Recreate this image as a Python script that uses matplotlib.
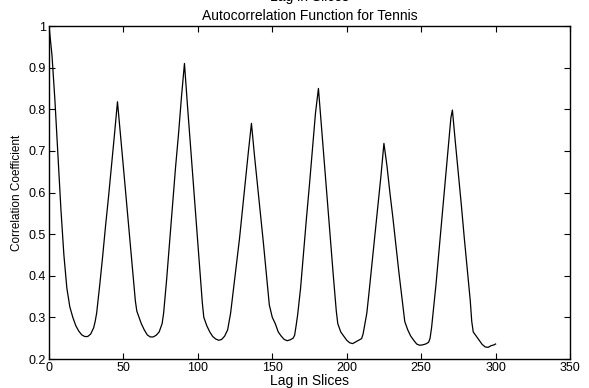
import matplotlib
matplotlib.use("Agg")
import matplotlib.pyplot as plt

plt.rcParams['font.family'] = ['Liberation Sans', 'DejaVu Sans']

lags = [0, 2, 4, 6, 8, 10, 12, 14, 16, 18, 20, 22, 24, 26, 28, 30, 31, 32, 34, 36, 38, 40, 42, 44, 46,
        48, 50, 52, 54, 56, 58, 59, 60, 62, 64, 66, 68, 70, 72, 74, 76, 77, 79, 81, 83, 85, 87, 89, 91,
        93, 95, 97, 99, 101, 103, 104, 106, 108, 110, 112, 114, 116, 118, 120, 121, 122,
        124, 126, 128, 130, 132, 134, 136,
        138, 140, 142, 144, 146, 148, 150, 152, 154, 156, 158, 160, 162, 164, 165, 166, 167,
        169, 171, 173, 175, 177, 179, 181,
        183, 185, 187, 189, 191, 193, 194, 196, 198, 200, 202, 204, 206, 208, 210, 211, 212, 213.5,
        215, 217, 219, 221, 223, 225,
        227, 229, 231, 233, 235, 237, 239, 241, 243, 245, 247, 249, 251, 253, 255, 256, 257, 258,
        260, 262, 264, 266, 268, 270, 271,
        273, 275, 277, 279, 281, 283, 284, 285, 287, 289, 291, 293, 295, 297, 299, 300]
corr = [1.000, 0.93, 0.82, 0.69, 0.56, 0.45, 0.37, 0.325, 0.30, 0.28, 0.267, 0.258, 0.254, 0.254, 0.26, 0.275, 0.29, 0.31, 0.375, 0.445, 0.52, 0.59, 0.665, 0.74, 0.818,
        0.74, 0.66, 0.58, 0.50, 0.42, 0.34, 0.315, 0.305, 0.285, 0.27, 0.258, 0.253, 0.253, 0.257, 0.265, 0.285, 0.31, 0.39, 0.48, 0.57, 0.66, 0.74, 0.83, 0.91,
        0.81, 0.715, 0.62, 0.525, 0.43, 0.335, 0.30, 0.28, 0.265, 0.254, 0.248, 0.245, 0.247, 0.255, 0.27, 0.29, 0.31,
        0.37, 0.43, 0.49, 0.56, 0.63, 0.70, 0.766,
        0.69, 0.62, 0.55, 0.48, 0.405, 0.33, 0.30, 0.285, 0.265, 0.255, 0.247, 0.244, 0.246, 0.25, 0.257, 0.28, 0.305,
        0.37, 0.455, 0.54, 0.62, 0.705, 0.79, 0.85,
        0.76, 0.67, 0.58, 0.49, 0.40, 0.315, 0.285, 0.265, 0.255, 0.245, 0.239, 0.237, 0.241, 0.245, 0.249, 0.26, 0.28, 0.31,
        0.36, 0.43, 0.50, 0.57, 0.64, 0.718,
        0.665, 0.60, 0.54, 0.475, 0.41, 0.35, 0.29, 0.27, 0.255, 0.245, 0.236, 0.233, 0.234, 0.236, 0.240, 0.25, 0.275, 0.31,
        0.38, 0.46, 0.54, 0.62, 0.70, 0.78, 0.798,
        0.72, 0.645, 0.57, 0.49, 0.415, 0.34, 0.29, 0.265, 0.255, 0.245, 0.235, 0.229, 0.228, 0.232, 0.234, 0.236]

xticks = [0, 50, 100, 150, 200, 250, 300, 350]
yticks = [0.2, 0.3, 0.4, 0.5, 0.6, 0.7, 0.8, 0.9, 1.0]
yticklabels = ['0.2', '0.3', '0.4', '0.5', '0.6', '0.7', '0.8', '0.9', '1']

fig = plt.figure(figsize=(5.89, 3.88), dpi=100)
ax = fig.add_axes([49/589, 29/388, 521/589, 333/388])
ax.plot(lags, corr, color='black', linewidth=0.9)
ax.set_xlim(0, 350)
ax.set_ylim(0.2, 1.0)
ax.set_xticks(xticks)
ax.set_xticklabels([str(t) for t in xticks])
ax.set_yticks(yticks)
ax.set_yticklabels(yticklabels)
ax.tick_params(direction='in', top=True, right=True, length=4, width=0.8, labelsize=9, pad=2)
for s in ax.spines.values():
    s.set_linewidth(1.0)
ax.set_xlabel('Lag in Slices', fontsize=10, labelpad=0)
ax.set_ylabel('Correlation Coefficient', fontsize=8.5, labelpad=4)
ax.set_title('Autocorrelation Function for Tennis', fontsize=10, pad=4)
fig.text(309.5/589, 1 - 1.5/388, 'Lag in Slices', fontsize=10, ha='center', va='baseline')

fig.savefig('out.png', dpi=100)
